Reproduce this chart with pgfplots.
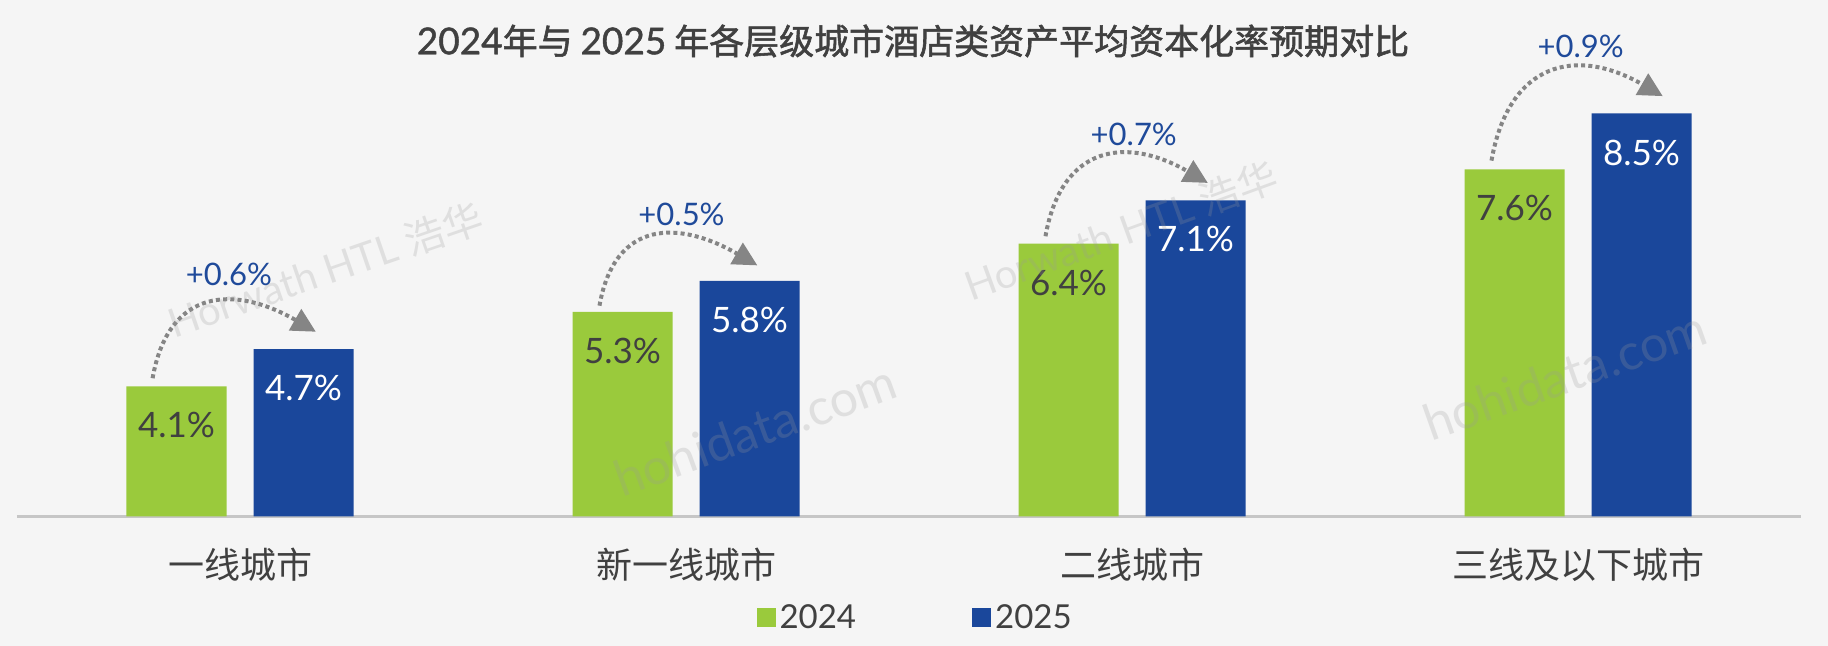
\documentclass[border=0pt]{standalone}
\usepackage{pgfplots}
\pgfplotsset{compat=1.18}
\usepackage{fontspec}
\setmainfont{Lato}
\newfontfamily\cjk{Noto Sans CJK SC}
\newfontfamily\cjkt[FakeBold=1.6]{Noto Sans CJK SC}
\newfontfamily\latot[FakeBold=1.2]{Lato}
\usetikzlibrary{arrows.meta}
\definecolor{cgreen}{HTML}{9ACA3C}
\definecolor{cblue}{HTML}{1A479B}
\definecolor{ctext}{HTML}{404040}
\definecolor{cdelta}{HTML}{1F4A9A}
\definecolor{carrow}{HTML}{858585}
\definecolor{cbg}{HTML}{F5F5F5}
\definecolor{caxis}{HTML}{C6C6C6}
\definecolor{cwm}{HTML}{9A9A9A}
\begin{document}
\begin{tikzpicture}[x=1pt,y=1pt]
\fill[cbg] (0,0) rectangle (914,323);
\useasboundingbox (0,0) rectangle (914,323);
% title
\node[font=\cjkt\fontsize{17.5}{20}\selectfont, text=ctext] at (456.5,302.5) {{\latot\fontsize{18.5}{20}\selectfont 2024}年与 {\latot\fontsize{18.5}{20}\selectfont 2025} 年各层级城市酒店类资产平均资本化率预期对比};
\begin{axis}[
  at={(8.5pt,64.75pt)}, anchor=south west,
  scale only axis, width=892pt, height=248pt,
  xmin=-0.5, xmax=3.5, ymin=2, ymax=10,
  hide y axis,
  axis x line*=bottom,
  x axis line style={-, draw=caxis, line width=1.5pt},
  xtick={0,1,2,3},
  xticklabels={一线城市,新一线城市,二线城市,三线及以下城市},
  xticklabel style={font=\cjk\fontsize{18}{20}\selectfont, text=ctext, anchor=center, yshift=-24pt},
  major tick length=0pt,
  legend style={at={(0.504,-0.2046)}, anchor=center, draw=none, fill=none,
    legend columns=2, font=\fontsize{16.5}{18}\selectfont, text=ctext,
    /tikz/every even column/.append style={column sep=56pt}},
  legend image code/.code={\fill[#1] (0pt,-4.75pt) rectangle (9.5pt,4.75pt);},
]
\addplot[ybar, bar width=50pt, bar shift=-31.75pt, fill=cgreen, draw=none,
  nodes near coords={\pgfmathprintnumber[fixed,fixed zerofill,precision=1,assume math mode=true]{\pgfplotspointmeta}\%},
  nodes near coords style={text=ctext, anchor=center, xshift=-31.75pt, yshift=-19.5pt, font=\fontsize{17.5}{20}\selectfont}]
  coordinates {(0,4.1) (1,5.3) (2,6.4) (3,7.6)};
\addplot[ybar, bar width=50pt, bar shift=31.75pt, fill=cblue, draw=none,
  nodes near coords={\pgfmathprintnumber[fixed,fixed zerofill,precision=1,assume math mode=true]{\pgfplotspointmeta}\%},
  nodes near coords style={text=white, anchor=center, xshift=31.75pt, yshift=-19.5pt, font=\fontsize{17.5}{20}\selectfont}]
  coordinates {(0,4.7) (1,5.8) (2,7.1) (3,8.5)};
\addplot[draw=none, mark=none, forget plot, nodes near coords, point meta=explicit symbolic,
  nodes near coords style={anchor=center, text=cdelta, font=\fontsize{15.5}{18}\selectfont}]
  coordinates {(-0.025,5.91)[+0.6\%] (0.99,6.87)[+0.5\%] (2.004,8.17)[+0.7\%] (3.006,9.58)[+0.9\%]};
\legend{2024,2025}
\tikzset{darr/.style={carrow, line width=2pt, dash pattern=on 2pt off 1.6pt, -{Triangle[length=12pt,width=12pt]}, looseness=1.4}}
\draw[darr] (axis cs:-0.196,4.23) to[out=80,in=150] (axis cs:0.17,4.98);
\draw[darr] (axis cs:0.806,5.40) to[out=80,in=150] (axis cs:1.16,6.05);
\draw[darr] (axis cs:1.806,6.52) to[out=80,in=150] (axis cs:2.17,7.38);
\draw[darr] (axis cs:2.806,7.74) to[out=80,in=150] (axis cs:3.19,8.78);
\end{axis}
% watermarks (semi-transparent, on top)
\begin{scope}[opacity=0.24, text=cwm]
\node[rotate=19, font=\fontsize{20}{24}\selectfont] at (162.5,188) {Horwath HTL {\cjk 浩华}};
\node[rotate=20, font=\fontsize{20}{24}\selectfont] at (560.5,207.5) {Horwath HTL {\cjk 浩华}};
\node[rotate=20, font=\fontsize{25}{28}\selectfont] at (377.5,108) {hohidata.com};
\node[rotate=19.5, font=\fontsize{25}{28}\selectfont] at (782.5,135.5) {hohidata.com};
\end{scope}
\end{tikzpicture}
\end{document}
